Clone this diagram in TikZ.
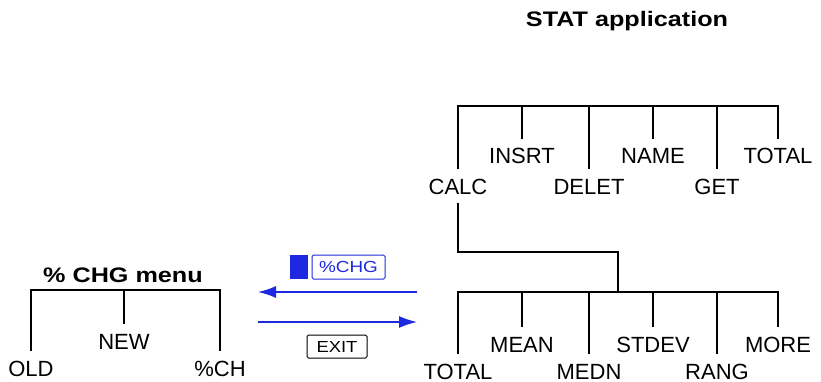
\documentclass[tikz,border=0pt]{standalone}
\usepackage{fontspec}
\setmainfont{Liberation Sans}
\usetikzlibrary{arrows.meta}
\definecolor{keyblue}{RGB}{30,40,225}

\begin{document}
\begin{tikzpicture}[x=1pt,y=-1pt,line width=1.8pt,
  lbl/.style={anchor=base,inner xsep=1pt,inner ysep=8pt,text height=16pt,text depth=0pt,font=\fontsize{22}{24}\selectfont},
  ttl/.style={anchor=base,inner sep=0pt,font=\bfseries\fontsize{21}{24}\selectfont},
  arr/.style={keyblue,line width=1.6pt,-{Latex[length=18pt,width=12pt]}},
  keybox/.style={draw,line width=1pt,rounded corners=1.5pt,inner sep=0pt,minimum height=22pt,font=\fontsize{16}{18}\selectfont}]
\path[use as bounding box] (0,0) rectangle (821,382);

\node[ttl] (stattitle) at (627,27) {\scalebox{1.2}[1]{STAT application}};
\coordinate (stat-r) at (778,106);
\node[lbl] (calc) at (458,194) {CALC};
\node[lbl] (insrt) at (522,164) {INSRT};
\node[lbl] (delet) at (589,194) {DELET};
\node[lbl] (name) at (653,164) {NAME};
\node[lbl] (get) at (717,194) {GET};
\node[lbl] (total) at (778,164) {TOTAL};
\draw (calc.north) |- (stat-r) -- (total.north);
\foreach \n in {insrt,delet,name,get}
  \draw (\n.north) -- (\n.north |- stat-r);

\coordinate (knee) at (618,252);
\coordinate (stats-r) at (778,292);
\node[lbl] (tot) at (458,379) {TOTAL};
\node[lbl] (mean) at (522,352) {MEAN};
\node[lbl] (medn) at (589,379) {MEDN};
\node[lbl] (stdev) at (653,352) {STDEV};
\node[lbl] (rang) at (717,379) {RANG};
\node[lbl] (more) at (778,352) {MORE};
\draw (calc.south) |- (knee) -- (knee |- stats-r);
\draw (tot.north) |- (stats-r) -- (more.north);
\foreach \n in {mean,medn,stdev,rang}
  \draw (\n.north) -- (\n.north |- stats-r);

\node[ttl] (chgtitle) at (123,282) {\scalebox{1.2}[1]{\% CHG menu}};
\coordinate (chg-r) at (220,290);
\node[lbl] (old) at (31,376) {OLD};
\node[lbl] (new) at (124,349) {NEW};
\node[lbl] (pch) at (220,376) {\%CH};
\draw (old.north) |- (chg-r) -- (pch.north);
\draw (new.north) -- (new.north |- chg-r);

\coordinate (in-r) at (417,292);
\coordinate (in-l) at (258,292);
\coordinate (out-l) at (258,322);
\coordinate (out-r) at (417,322);
\draw[arr] (in-r) -- (in-l);
\draw[arr] (out-l) -- (out-r);

\node[fill=keyblue,inner sep=0pt,minimum width=18pt,minimum height=24pt] (shiftkey) at (299,267) {};
\node[keybox,keyblue,minimum width=73pt,minimum height=24pt] (chgkey) at (348.5,267) {\scalebox{1.18}[1]{\%CHG}};
\node[keybox,minimum width=60pt,minimum height=23pt] (exitkey) at (337,346.5) {\scalebox{1.15}[1]{EXIT}};
\end{tikzpicture}
\end{document}
